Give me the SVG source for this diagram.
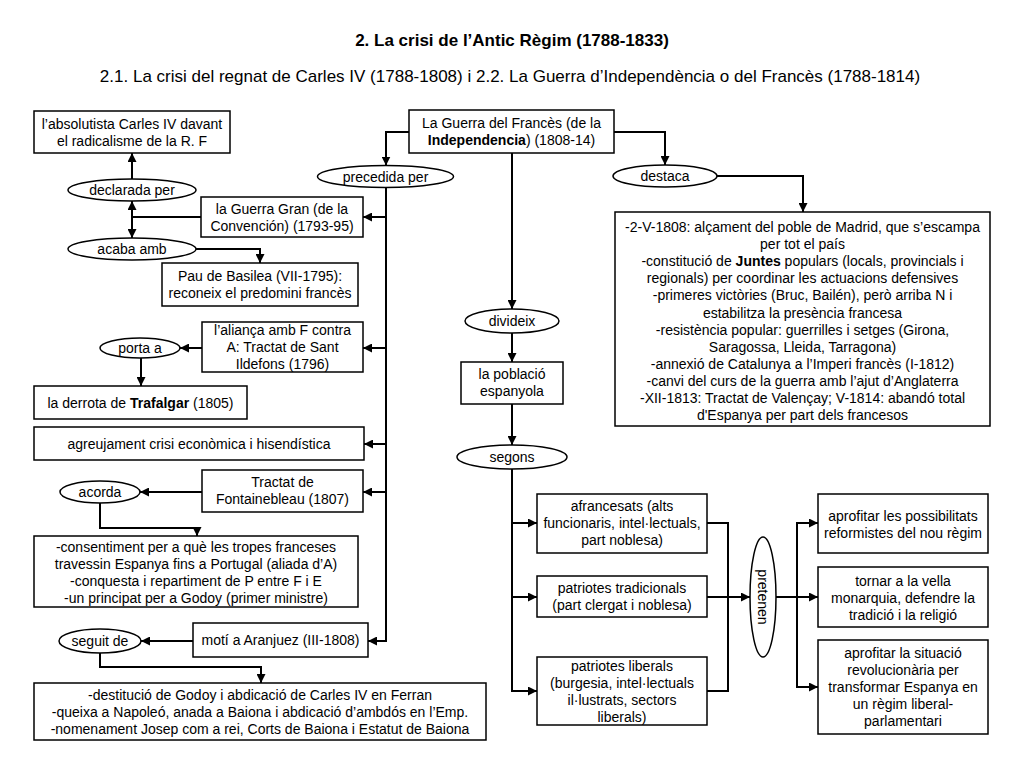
<svg xmlns="http://www.w3.org/2000/svg" width="1024" height="768" viewBox="0 0 1024 768">
<defs>
<style>
text{font-family:"Liberation Sans",Arial,sans-serif;font-size:14px;fill:#000;text-anchor:middle}
.title{font-size:17px;font-weight:bold}
.sub{font-size:17px}
.b{font-weight:bold}
rect,ellipse{fill:#fff;stroke:#000;stroke-width:1.5}
#connectors path{fill:none;stroke:#000;stroke-width:2}
.arr{marker-end:url(#ah)}
.dbl{marker-start:url(#ah);marker-end:url(#ah)}
</style>
<marker id="ah" viewBox="0 0 10 10" refX="10" refY="5" markerWidth="9" markerHeight="9" orient="auto-start-reverse" markerUnits="userSpaceOnUse"><path d="M0,0 L10,5 L0,10 z" fill="#000"/></marker>
</defs>
<rect x="0" y="0" width="1024" height="768" style="fill:#fff;stroke:none"/>
<text class="title" x="512" y="46">2. La crisi de l’Antic Règim (1788-1833)</text>
<text class="sub" x="510" y="82">2.1. La crisi del regnat de Carles IV (1788-1808) i 2.2. La Guerra d’Independència o del Francès (1788-1814)</text>

<g id="connectors">
<path class="arr" d="M132,179 V153"/>
<path d="M201,217 H132"/>
<path class="dbl" d="M132,201 V238"/>
<path class="arr" d="M196,249 H260 V263"/>
<path class="arr" d="M409,132 H386 V165.5"/>
<path class="arr" d="M614,132 H665 V165"/>
<path class="arr" d="M386,187.5 V641 H368"/>
<path class="arr" d="M386,217 H363"/>
<path class="arr" d="M386,348 H363"/>
<path class="arr" d="M386,444 H364"/>
<path class="arr" d="M386,492 H363"/>
<path class="arr" d="M202,348 H180"/>
<path class="arr" d="M141,358 V386"/>
<path class="arr" d="M202,492 H140"/>
<path class="arr" d="M100,503 V528 H197 V536"/>
<path class="arr" d="M193,641 H141"/>
<path class="arr" d="M100,653 V667 H261 V683"/>
<path class="arr" d="M717,176 H803 V212"/>
<path class="arr" d="M512,153 V309"/>
<path class="arr" d="M512,333 V362"/>
<path class="arr" d="M512,404 V445"/>
<path class="arr" d="M512,469 V691 H537"/>
<path class="arr" d="M512,523 H537"/>
<path class="arr" d="M512,597 H537"/>
<path d="M707,523 H728 V691 H707"/>
<path class="arr" d="M707,597 H750"/>
<path class="arr" d="M776,597 H818"/>
<path class="arr" d="M797,597 V523 H818"/>
<path class="arr" d="M797,597 V687 H818"/>
</g>

<g id="n-absolutista"><rect x="34" y="111" width="196" height="42"/><text x="132" y="129">l’absolutista Carles IV davant</text><text x="132" y="146">el radicalisme de la R. F</text></g>
<g id="e-declarada"><ellipse cx="132" cy="190" rx="64" ry="11"/><text x="132" y="195">declarada per</text></g>
<g id="n-guerragran"><rect x="201" y="197" width="162" height="40"/><text x="282" y="214">la Guerra Gran (de la</text><text x="282" y="231">Convención) (1793-95)</text></g>
<g id="e-acaba"><ellipse cx="132" cy="249" rx="64" ry="11"/><text x="132" y="254">acaba amb</text></g>
<g id="n-pau"><rect x="162" y="263" width="196" height="43"/><text x="260" y="281">Pau de Basilea (VII-1795):</text><text x="260" y="298">reconeix el predomini francès</text></g>
<g id="n-alianca"><rect x="202" y="322" width="161" height="50"/><text x="282.5" y="335">l’aliança amb F contra</text><text x="282.5" y="352">A: Tractat de Sant</text><text x="282.5" y="369">Ildefons (1796)</text></g>
<g id="e-porta"><ellipse cx="140" cy="348" rx="40" ry="10"/><text x="140" y="353">porta a</text></g>
<g id="n-trafalgar"><rect x="34" y="386" width="213" height="33"/><text x="140.5" y="407.5">la derrota de <tspan class="b">Trafalgar</tspan> (1805)</text></g>
<g id="n-agreujament"><rect x="34" y="427" width="330" height="33"/><text x="199" y="448.5">agreujament crisi econòmica i hisendística</text></g>
<g id="n-fontainebleau"><rect x="202" y="470" width="161" height="42"/><text x="282.5" y="487">Tractat de</text><text x="282.5" y="504">Fontainebleau (1807)</text></g>
<g id="e-acorda"><ellipse cx="100" cy="492" rx="40" ry="11"/><text x="100" y="497">acorda</text></g>
<g id="n-consentiment"><rect x="34" y="536" width="324" height="71"/><text x="196" y="552">-consentiment per a què les tropes franceses</text><text x="196" y="569">travessin Espanya fins a Portugal (aliada d’A)</text><text x="196" y="586">-conquesta i repartiment de P entre F i E</text><text x="196" y="603">-un principat per a Godoy (primer ministre)</text></g>
<g id="n-moti"><rect x="193" y="623" width="175" height="34"/><text x="280.5" y="645">motí a Aranjuez (III-1808)</text></g>
<g id="e-seguit"><ellipse cx="100" cy="641" rx="41" ry="12"/><text x="100" y="646">seguit de</text></g>
<g id="n-destitucio"><rect x="34" y="683" width="452" height="57"/><text x="260" y="700">-destitució de Godoy i abdicació de Carles IV en Ferran</text><text x="260" y="717">-queixa a Napoleó, anada a Baiona i abdicació d’ambdós en l’Emp.</text><text x="260" y="734">-nomenament Josep com a rei, Corts de Baiona i Estatut de Baiona</text></g>

<g id="n-guerrafrances"><rect x="409" y="110" width="205" height="43"/><text x="511.5" y="128">La Guerra del Francès (de la</text><text x="511.5" y="145"><tspan class="b">Independencia</tspan>) (1808-14)</text></g>
<g id="e-precedida"><ellipse cx="385.5" cy="176.5" rx="68" ry="11"/><text x="385.5" y="181.5">precedida per</text></g>
<g id="e-destaca"><ellipse cx="665" cy="176" rx="52" ry="11"/><text x="665" y="181">destaca</text></g>
<g id="n-destaca"><rect x="615" y="212" width="375" height="214"/>
<text x="802.5" y="232">-2-V-1808: alçament del poble de Madrid, que s’escampa</text>
<text x="802.5" y="249.1">per tot el país</text>
<text x="802.5" y="266.2">-constitució de <tspan class="b">Juntes</tspan> populars (locals, provincials i</text>
<text x="802.5" y="283.3">regionals) per coordinar les actuacions defensives</text>
<text x="802.5" y="300.4">-primeres victòries (Bruc, Bailén), però arriba N i</text>
<text x="802.5" y="317.5">estabilitza la presència francesa</text>
<text x="802.5" y="334.6">-resistència popular: guerrilles i setges (Girona,</text>
<text x="802.5" y="351.7">Saragossa, Lleida, Tarragona)</text>
<text x="802.5" y="368.8">-annexió de Catalunya a l’Imperi francès (I-1812)</text>
<text x="802.5" y="385.9">-canvi del curs de la guerra amb l’ajut d’Anglaterra</text>
<text x="802.5" y="403">-XII-1813: Tractat de Valençay; V-1814: abandó total</text>
<text x="802.5" y="420.1">d'Espanya per part dels francesos</text></g>
<g id="e-divideix"><ellipse cx="512" cy="321" rx="47" ry="12"/><text x="512" y="326">divideix</text></g>
<g id="n-poblacio"><rect x="461" y="362" width="102" height="42"/><text x="512" y="379">la població</text><text x="512" y="396">espanyola</text></g>
<g id="e-segons"><ellipse cx="512" cy="457" rx="55" ry="12"/><text x="512" y="462">segons</text></g>
<g id="n-afrancesats"><rect x="537" y="494" width="170" height="59"/><text x="622" y="511">afrancesats (alts</text><text x="622" y="528">funcionaris, intel·lectuals,</text><text x="622" y="545">part noblesa)</text></g>
<g id="n-tradicionals"><rect x="537" y="576" width="170" height="41"/><text x="622" y="593">patriotes tradicionals</text><text x="622" y="610">(part clergat i noblesa)</text></g>
<g id="n-liberals"><rect x="537" y="657" width="170" height="68"/><text x="622" y="671">patriotes liberals</text><text x="622" y="688">(burgesia, intel·lectuals</text><text x="622" y="705">il·lustrats, sectors</text><text x="622" y="722">liberals)</text></g>
<g id="e-pretenen"><ellipse cx="763" cy="597" rx="13" ry="60"/><text transform="translate(763,597) rotate(90)" x="0" y="5">pretenen</text></g>
<g id="n-r1"><rect x="818" y="494" width="170" height="59"/><text x="903" y="521">aprofitar les possibilitats</text><text x="903" y="538">reformistes del nou règim</text></g>
<g id="n-r2"><rect x="818" y="567" width="170" height="60"/><text x="903" y="586">tornar a la vella</text><text x="903" y="603">monarquia, defendre la</text><text x="903" y="620">tradició i la religió</text></g>
<g id="n-r3"><rect x="818" y="640" width="170" height="94"/><text x="903" y="658">aprofitar la situació</text><text x="903" y="675">revolucionària per</text><text x="903" y="692">transformar Espanya en</text><text x="903" y="709">un règim liberal-</text><text x="903" y="726">parlamentari</text></g>
</svg>
